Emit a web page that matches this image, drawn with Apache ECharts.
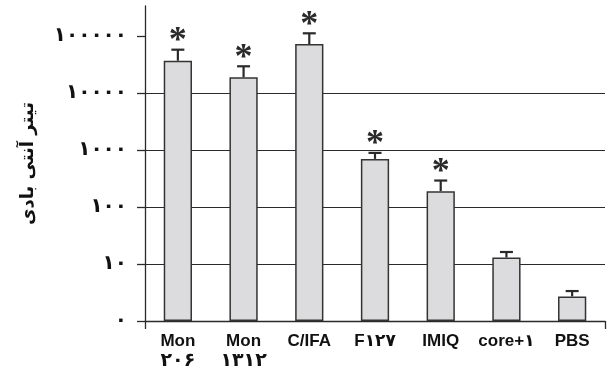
<!DOCTYPE html>
<html>
<head>
<meta charset="utf-8">
<script src="https://cdn.jsdelivr.net/npm/echarts@6/dist/echarts.min.js"></script>
<style>
  html, body { margin: 0; padding: 0; background: #fff; }
  #chart { width: 609px; height: 376px; }
</style>
</head>
<body>
<div id="chart"></div>
<script>
// Groups along the x axis (first line / optional second line)
var categories = ['Mon\n۲۰۶', 'Mon\n۱۳۱۲', 'C/IFA', 'F۱۲۷', 'IMIQ', 'core+۱', 'PBS'];
// Mean antibody titer for each group
var titerMean = [36600, 18800, 71800, 695, 189, 13.0, 2.7];
// Upper end of the error bar for each group
var titerUpper = [57100, 29200, 110600, 886, 290, 16.2, 3.35];
// Groups marked as significant with an asterisk
var significant = [true, true, true, true, true, false, false];
// Log-axis tick values and their printed labels
var yTickValues = [1, 10, 100, 1000, 10000, 100000];
var yTickLabels = ['۰', '۱۰', '۱۰۰', '۱۰۰۰', '۱۰۰۰۰', '۱۰۰۰۰۰'];
var yAxisTitle = 'تیتر آنتی بادی';

var ink = '#2a2a2a';
var font = '"Liberation Sans", Arial, "DejaVu Sans", sans-serif';

var errData = categories.map(function (c, i) {
  return [i, titerMean[i], titerUpper[i], significant[i] ? 1 : 0];
});

var chart = echarts.init(document.getElementById('chart'));
chart.setOption({
  animation: false,
  backgroundColor: '#ffffff',
  grid: { left: 145, right: 4, top: 6, bottom: 55 },
  xAxis: {
    type: 'category',
    data: categories,
    axisLine: { lineStyle: { color: ink, width: 1.3 } },
    // a single kept tick makes ECharts mark just the two ends of the axis
    axisTick: {
      show: true, length: 8,
      interval: function (index) { return index === 0; },
      lineStyle: { color: ink, width: 1.3 }
    },
    axisLabel: {
      color: '#111', fontFamily: font, fontWeight: 'bold', fontSize: 17,
      margin: 10, lineHeight: 20, interval: 0,
      formatter: function (v) {
        var parts = v.split('\n');
        return parts.length > 1 ? parts[0] + '\n{d|' + parts[1] + '}' : v;
      },
      rich: {
        d: { fontFamily: '"DejaVu Sans", sans-serif', fontWeight: 'bold', fontSize: 19, color: '#111', lineHeight: 21 }
      }
    }
  },
  yAxis: {
    type: 'log',
    logBase: 10,
    min: 1,
    max: 333000,
    name: yAxisTitle,
    nameLocation: 'middle',
    nameGap: 108,
    nameRotate: 90,
    nameTextStyle: { color: '#111', fontFamily: '"DejaVu Sans", sans-serif', fontWeight: 'bold', fontSize: 18 },
    axisLine: { show: true, lineStyle: { color: ink, width: 1.3 } },
    axisTick: { show: true, inside: false, length: 8, customValues: yTickValues, lineStyle: { color: ink, width: 1.3 } },
    axisLabel: {
      customValues: yTickValues,
      margin: 18,
      color: '#111', fontFamily: '"DejaVu Sans", sans-serif', fontWeight: 'bold', fontSize: 20,
      formatter: function (v) {
        var k = yTickValues.findIndex(function (t) { return Math.abs(t - v) / t < 1e-6; });
        return k >= 0 ? yTickLabels[k] : '';
      }
    },
    splitLine: { show: true, showMaxLine: false, customValues: yTickValues, lineStyle: { color: ink, width: 1.2 } }
  },
  series: [{
    type: 'bar',
    data: titerMean,
    barWidth: '43%',
    itemStyle: { color: '#dcdcde', borderColor: '#333', borderWidth: 1.5 },
    z: 3
  }, {
    type: 'custom',
    data: errData,
    z: 4,
    renderItem: function (params, api) {
      var i = api.value(0);
      var base = api.coord([i, api.value(1)]);
      var top = api.coord([i, api.value(2)]);
      var capHalf = 6.5;
      var children = [{
        type: 'line',
        shape: { x1: base[0], y1: base[1], x2: top[0], y2: top[1] },
        style: { stroke: ink, lineWidth: 2.2 }
      }, {
        type: 'line',
        shape: { x1: top[0] - capHalf, y1: top[1], x2: top[0] + capHalf, y2: top[1] },
        style: { stroke: ink, lineWidth: 2.2 }
      }];
      if (api.value(3)) {
        children.push({
          type: 'text',
          style: {
            text: '*', x: top[0], y: top[1] + 10,
            fill: ink, font: 'bold 36px "Liberation Serif", serif',
            textAlign: 'center', textVerticalAlign: 'bottom'
          }
        });
      }
      return { type: 'group', children: children };
    }
  }]
});
</script>
</body>
</html>
